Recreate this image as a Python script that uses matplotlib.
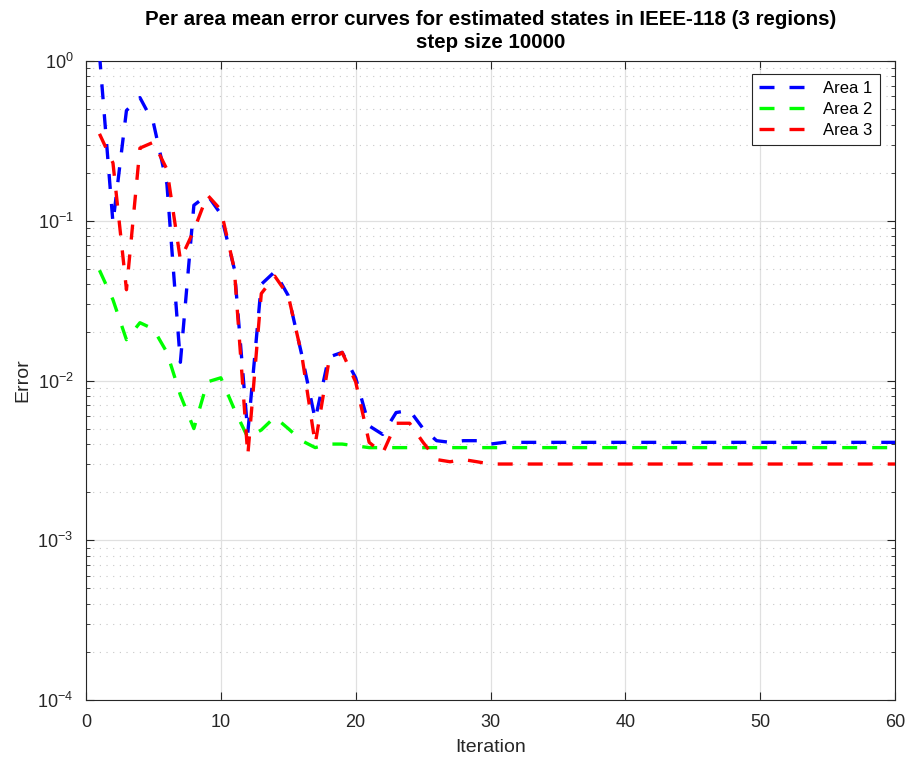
import matplotlib
matplotlib.use("Agg")
import matplotlib.pyplot as plt
from matplotlib.ticker import LogLocator, NullFormatter, MultipleLocator

plt.rcParams['font.family'] = ['Liberation Sans', 'DejaVu Sans']

iterations = list(range(1, 61))

area1 = [1.1, 0.097, 0.49, 0.59, 0.41, 0.17, 0.013, 0.125, 0.145, 0.11,
         0.05, 0.0047, 0.04, 0.048, 0.034, 0.0145, 0.0057, 0.014, 0.015, 0.0104,
         0.0052, 0.0046, 0.0063, 0.0065, 0.005, 0.0042, 0.0041, 0.0042, 0.0042, 0.0040,
         0.0041, 0.0041, 0.0041, 0.0041, 0.0041, 0.0041, 0.0041, 0.0041, 0.0041, 0.0041,
         0.0041, 0.0041, 0.0041, 0.0041, 0.0041, 0.0041, 0.0041, 0.0041, 0.0041, 0.0041,
         0.0041, 0.0041, 0.0041, 0.0041, 0.0041, 0.0041, 0.0041, 0.0041, 0.0041, 0.0041]

area2 = [0.049, 0.032, 0.018, 0.023, 0.021, 0.015, 0.0081, 0.005, 0.0098, 0.0104,
         0.0066, 0.0044, 0.0049, 0.0059, 0.005, 0.0042, 0.0038, 0.004, 0.004, 0.0039,
         0.0038, 0.0038, 0.0038, 0.0038, 0.0038, 0.0038, 0.0038, 0.0038, 0.0038, 0.0038,
         0.0038, 0.0038, 0.0038, 0.0038, 0.0038, 0.0038, 0.0038, 0.0038, 0.0038, 0.0038,
         0.0038, 0.0038, 0.0038, 0.0038, 0.0038, 0.0038, 0.0038, 0.0038, 0.0038, 0.0038,
         0.0038, 0.0038, 0.0038, 0.0038, 0.0038, 0.0038, 0.0038, 0.0038, 0.0038, 0.0038]

area3 = [0.35, 0.23, 0.037, 0.285, 0.31, 0.21, 0.057, 0.087, 0.145, 0.117,
         0.05, 0.0034, 0.035, 0.045, 0.034, 0.0145, 0.004, 0.013, 0.015, 0.0098,
         0.0041, 0.0035, 0.0054, 0.0054, 0.0041, 0.0032, 0.0031, 0.0032, 0.0031, 0.0030,
         0.0030, 0.0030, 0.0030, 0.0030, 0.0030, 0.0030, 0.0030, 0.0030, 0.0030, 0.0030,
         0.0030, 0.0030, 0.0030, 0.0030, 0.0030, 0.0030, 0.0030, 0.0030, 0.0030, 0.0030,
         0.0030, 0.0030, 0.0030, 0.0030, 0.0030, 0.0030, 0.0030, 0.0030, 0.0030, 0.0030]

series = [('Area 1', area1, (0, 0, 1)),
          ('Area 2', area2, (0, 1, 0)),
          ('Area 3', area3, (1, 0, 0))]

axis_col = (0.15, 0.15, 0.15)

fig = plt.figure(figsize=(9.09, 7.6), dpi=100, facecolor='white')
ax = fig.add_axes([86 / 909, 1 - 700 / 760, 809 / 909, 639 / 760])

for name, vals, col in series:
    ax.plot(iterations, vals, color=col, linewidth=2.4,
            linestyle=(0, (4.5, 4.5)), label=name, zorder=3)

ax.set_yscale('log')
ax.set_xlim(0, 60)
ax.set_ylim(1e-4, 1)
ax.xaxis.set_major_locator(MultipleLocator(10))
ax.yaxis.set_major_locator(LogLocator(base=10, numticks=10))
ax.yaxis.set_minor_locator(LogLocator(base=10, subs=range(2, 10), numticks=10))
ax.yaxis.set_minor_formatter(NullFormatter())

ax.grid(True, which='major', color=(0.88, 0.88, 0.88), linewidth=0.9, zorder=0)
ax.grid(True, which='minor', axis='y', color=(0.78, 0.78, 0.78),
        linestyle=(0, (1, 5)), linewidth=0.8, zorder=0)
ax.set_axisbelow(True)

for sp in ax.spines.values():
    sp.set_color(axis_col)
    sp.set_linewidth(0.8)
ax.tick_params(which='both', direction='in', top=True, right=True,
               colors=axis_col, labelsize=13)
ax.tick_params(which='major', length=6)
ax.tick_params(which='minor', length=3)
ax.tick_params(axis='x', pad=10)
ax.tick_params(axis='y', pad=9)

ax.set_xlabel('Iteration', fontsize=14, color=axis_col, labelpad=6)
ax.set_ylabel('Error', fontsize=14, color=axis_col, labelpad=4)
ax.set_title('Per area mean error curves for estimated states in IEEE-118 (3 regions)\nstep size 10000',
             fontsize=14.8, fontweight='bold', pad=9, linespacing=1.3)

leg = ax.legend(loc='upper right', bbox_to_anchor=(0.981, 0.98), fontsize=12,
                frameon=True, fancybox=False, handlelength=2.7,
                borderpad=0.45, labelspacing=0.35, handletextpad=1.1,
                borderaxespad=0)
leg.get_frame().set_edgecolor(axis_col)
leg.get_frame().set_linewidth(0.8)
leg.get_frame().set_alpha(1)

fig.savefig('out.png', dpi=100, facecolor='white')
